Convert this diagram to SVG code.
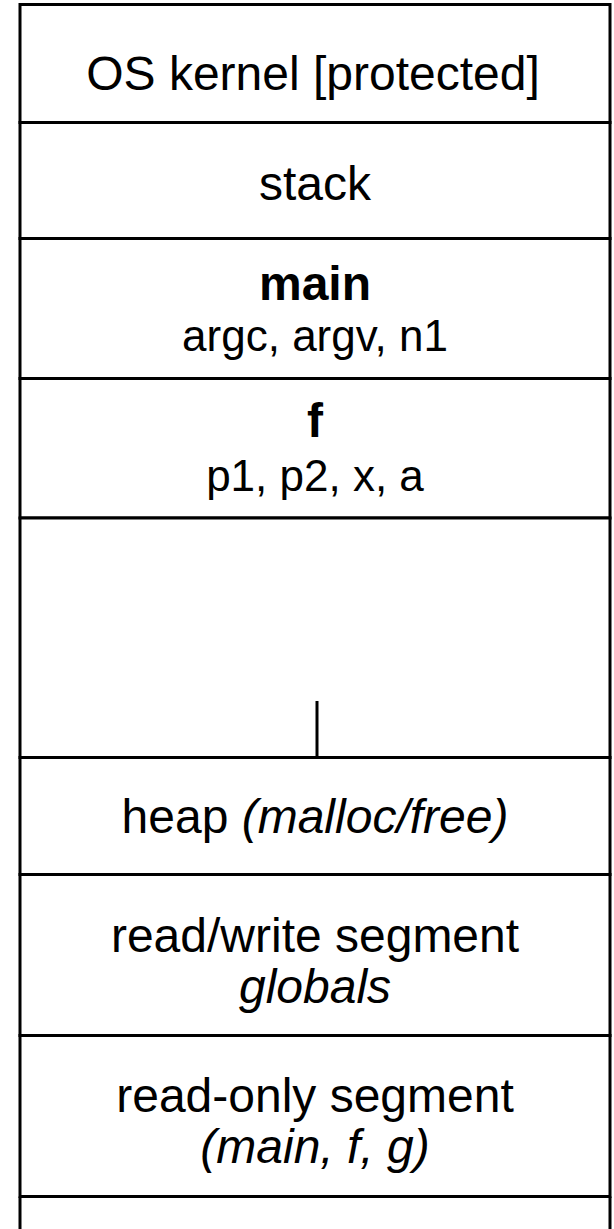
<svg xmlns="http://www.w3.org/2000/svg" width="614" height="1229" viewBox="0 0 614 1229">
<style>
.box{fill:#fff;stroke:#000;stroke-width:3}
.t{font-family:"Liberation Sans",Arial,sans-serif;font-size:48px;fill:#000;text-anchor:middle}
.s{font-size:44px}
.b{font-weight:bold}
.i{font-style:italic}
</style>
<rect x="0" y="0" width="614" height="1229" fill="#fff"/>
<g id="kernel"><rect class="box" x="20" y="4.5" width="590" height="118"/><text class="t" x="313" y="90">OS kernel [protected]</text></g>
<g id="stack"><rect class="box" x="20" y="122.5" width="590" height="116"/><text class="t" x="315" y="200">stack</text></g>
<g id="main"><rect class="box" x="20" y="238.5" width="590" height="140"/><text class="t b" x="315" y="300">main</text><text class="t s" x="315" y="351">argc, argv, n1</text></g>
<g id="f"><rect class="box" x="20" y="378.5" width="590" height="139.5"/><text class="t b" x="315" y="437">f</text><text class="t s" x="315" y="491">p1, p2, x, a</text></g>
<g id="free"><rect class="box" x="20" y="518" width="590" height="239.5"/></g>
<g id="heap"><rect class="box" x="20" y="757.5" width="590" height="117"/><text class="t" x="315" y="833">heap <tspan class="i">(malloc/free)</tspan></text></g>
<g id="rw"><rect class="box" x="20" y="874.5" width="590" height="161"/><text class="t" x="315" y="952">read/write segment</text><text class="t i" x="315" y="1003">globals</text></g>
<g id="ro"><rect class="box" x="20" y="1035.5" width="590" height="161"/><text class="t" x="315" y="1112">read-only segment</text><text class="t i" x="315" y="1163">(main, f, g)</text></g>
<g id="bottom"><path d="M20 1196.5 V1229 M610 1196.5 V1229" stroke="#000" stroke-width="3" fill="none"/></g>
<g id="connectors"><line x1="317" y1="701" x2="317" y2="757.5" stroke="#000" stroke-width="3"/></g>
</svg>
